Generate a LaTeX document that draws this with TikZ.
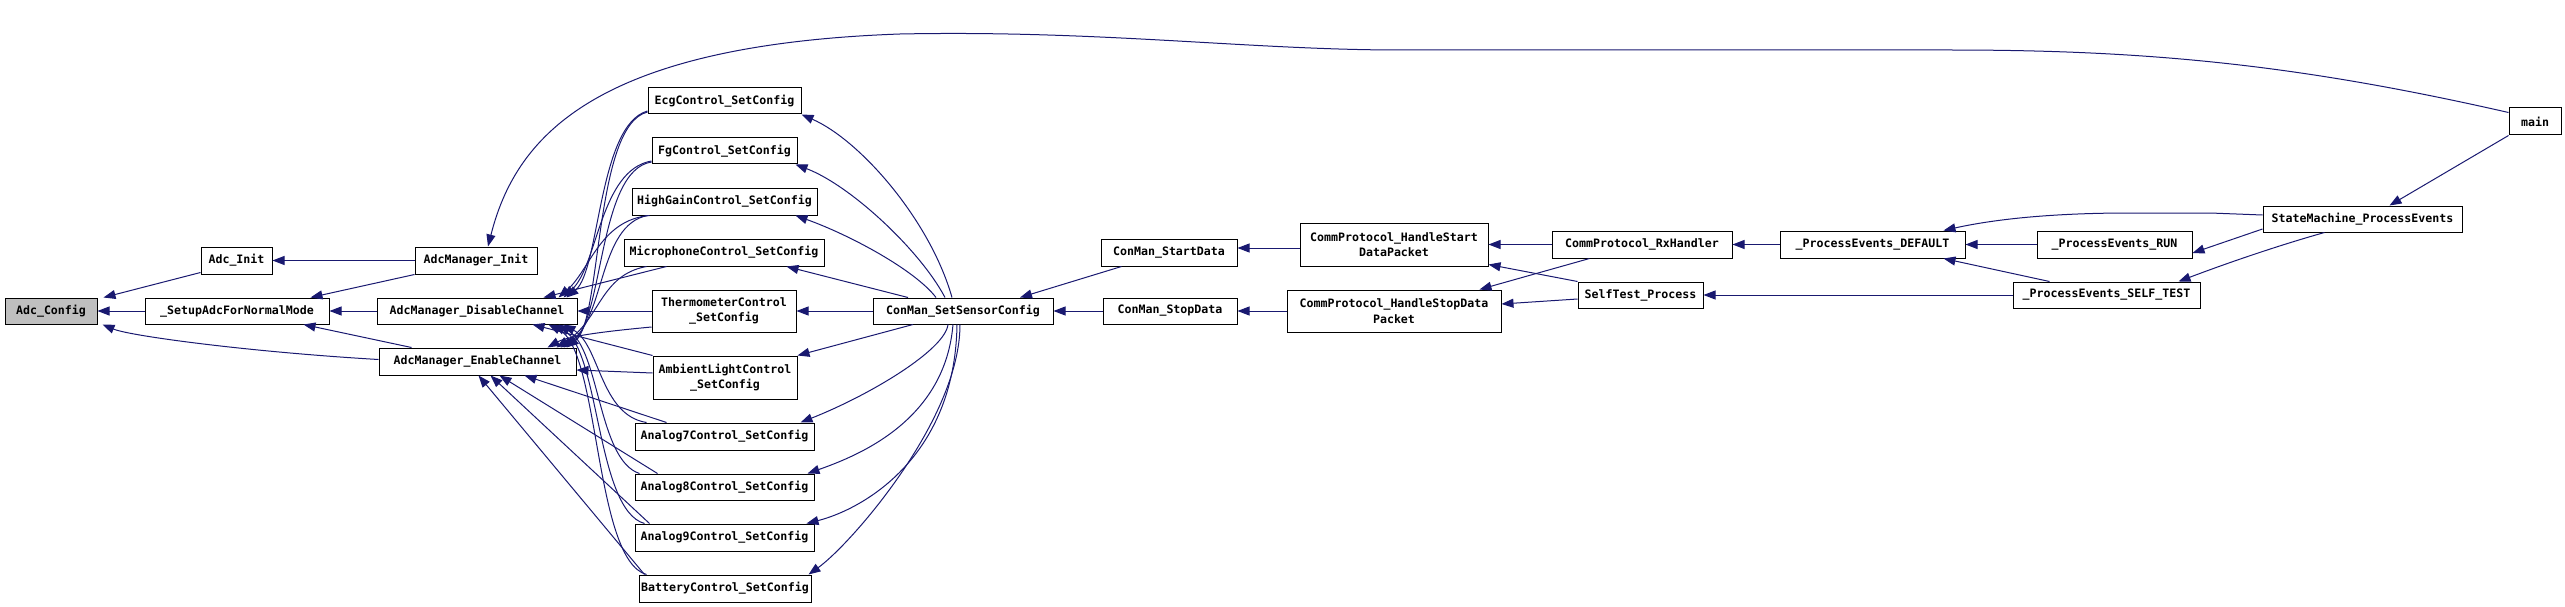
\documentclass[tikz,border=0pt]{standalone}
\usepackage{fontspec}
\newfontfamily\fnfont{DejaVu Sans Mono}
\usetikzlibrary{arrows.meta}
\definecolor{navy}{HTML}{191970}
\definecolor{hilite}{HTML}{BFBFBF}
\tikzset{
  fn/.style={draw=black, line width=1pt, fill=white, inner sep=0pt, align=center,
    font={\fnfont\bfseries\fontsize{11.6}{15.5}\selectfont}},
  calls/.style={draw=navy, line width=1pt, {Triangle[length=12pt,width=9pt]}-},
}
\begin{document}
\begin{tikzpicture}[x=1pt,y=-1pt]
\useasboundingbox (0,0) rectangle (2565,607);
% nodes
\node[fn, fill=hilite, minimum width=92pt, minimum height=26pt] (cfg) at (51,311) {Adc\_Config};
\node[fn, minimum width=71pt, minimum height=27pt] (init) at (236.5,260.5) {Adc\_Init};
\node[fn, minimum width=122pt, minimum height=27pt] (mgrinit) at (476,260.5) {AdcManager\_Init};
\node[fn, minimum width=184pt, minimum height=26pt] (setup) at (237,311) {\_SetupAdcForNormalMode};
\node[fn, minimum width=200pt, minimum height=26pt] (dis) at (477,311) {AdcManager\_DisableChannel};
\node[fn, minimum width=197pt, minimum height=27pt] (en) at (477.5,361.5) {AdcManager\_EnableChannel};
\node[fn, minimum width=153pt, minimum height=26pt] (ecg) at (724.5,101) {EcgControl\_SetConfig};
\node[fn, minimum width=145pt, minimum height=26pt] (fg) at (724.5,151) {FgControl\_SetConfig};
\node[fn, minimum width=185pt, minimum height=27pt] (hg) at (724.5,201.5) {HighGainControl\_SetConfig};
\node[fn, minimum width=200pt, minimum height=27pt] (mic) at (724,252.5) {MicrophoneControl\_SetConfig};
\node[fn, minimum width=144pt, minimum height=42pt] (therm) at (724,311) {ThermometerControl\\\_SetConfig};
\node[fn, minimum width=144pt, minimum height=43pt] (amb) at (725,377.5) {AmbientLightControl\\\_SetConfig};
\node[fn, minimum width=179pt, minimum height=27pt] (a7) at (724.5,436.5) {Analog7Control\_SetConfig};
\node[fn, minimum width=179pt, minimum height=26pt] (a8) at (724.5,487) {Analog8Control\_SetConfig};
\node[fn, minimum width=179pt, minimum height=27pt] (a9) at (724.5,537.5) {Analog9Control\_SetConfig};
\node[fn, minimum width=172pt, minimum height=27pt] (bat) at (725,588.5) {BatteryControl\_SetConfig};
\node[fn, minimum width=180pt, minimum height=26pt] (ssc) at (963,311) {ConMan\_SetSensorConfig};
\node[fn, minimum width=136pt, minimum height=27pt] (start) at (1169,252.5) {ConMan\_StartData};
\node[fn, minimum width=134pt, minimum height=26pt] (stop) at (1170,311) {ConMan\_StopData};
\node[fn, minimum width=188pt, minimum height=43pt] (hstart) at (1394,244.5) {CommProtocol\_HandleStart\\DataPacket};
\node[fn, minimum width=214pt, minimum height=42pt] (hstop) at (1394,311) {CommProtocol\_HandleStopData\\Packet};
\node[fn, minimum width=180pt, minimum height=27pt] (rx) at (1642,244.5) {CommProtocol\_RxHandler};
\node[fn, minimum width=125pt, minimum height=26pt] (self) at (1640.5,295) {SelfTest\_Process};
\node[fn, minimum width=185pt, minimum height=27pt] (def) at (1872.5,244.5) {\_ProcessEvents\_DEFAULT};
\node[fn, minimum width=155pt, minimum height=27pt] (run) at (2114.5,244.5) {\_ProcessEvents\_RUN};
\node[fn, minimum width=187pt, minimum height=26pt] (selft) at (2106.5,295) {\_ProcessEvents\_SELF\_TEST};
\node[fn, minimum width=199pt, minimum height=26pt] (smp) at (2362.5,219) {StateMachine\_ProcessEvents};
\node[fn, minimum width=52pt, minimum height=27pt] (main) at (2535,121.5) {main};
% left part
\draw[calls] ([xshift=6pt]cfg.north east) -- ([yshift=2pt]init.south west);
\draw[calls] (cfg.east) -- (setup.west);
\draw[calls] ([xshift=5pt]cfg.south east) .. controls (130,336) and (250,352) .. ([yshift=2pt]en.west);
\draw[calls] (init.east) -- (mgrinit.west);
\draw[calls] ([xshift=-19pt]setup.north east) -- (mgrinit.south west);
\draw[calls] (setup.east) -- (dis.west);
\draw[calls] ([xshift=-26pt]setup.south east) -- ([xshift=33pt]en.north west);
\draw[calls] ([xshift=12pt]mgrinit.north) .. controls (515,140) and (590,45) .. (900,34)
  .. controls (1100,30) and (1250,50) .. (1400,50) -- (1950,50)
  .. controls (2150,50) and (2300,65) .. ([yshift=9pt]main.west);
% controls -> AdcManager_DisableChannel / EnableChannel
\draw[calls] ([xshift=-11pt]dis.north east) .. controls (600,270) and (598,125) .. ([yshift=-10pt]ecg.west);
\draw[calls] ([xshift=-10pt]en.north east) .. controls (602,320) and (594,125) .. ([yshift=-11pt]ecg.west);
\draw[calls] ([xshift=-14pt]dis.north east) .. controls (598,265) and (600,170) .. ([yshift=-10pt]fg.west);
\draw[calls] ([xshift=-13pt]en.north east) .. controls (604,320) and (598,170) .. ([yshift=-11pt]fg.west);
\draw[calls] ([xshift=-19pt]dis.north east) .. controls (590,270) and (600,220) .. ([xshift=18pt]hg.south west);
\draw[calls] ([xshift=-16pt]en.north east) .. controls (605,320) and (598,225) .. ([xshift=16pt]hg.south west);
\draw[calls] ([xshift=-34pt]dis.north east) -- ([xshift=43pt]mic.south west);
\draw[calls] ([xshift=-20pt]en.north east) .. controls (600,320) and (600,275) .. ([xshift=23pt]mic.south west);
\draw[calls] (dis.east) -- (therm.west);
\draw[calls] ([xshift=-29pt]en.north east) .. controls (570,335) and (620,330) .. ([yshift=-16pt]therm.west);
\draw[calls] ([yshift=-8.5pt]en.east) -- ([yshift=4.5pt]amb.west);
\draw[calls] ([xshift=-45pt]dis.south east) -- (amb.north west);
\draw[calls] ([xshift=-14pt]dis.south east) .. controls (600,345) and (600,415) .. ([xshift=12pt]a7.north west);
\draw[calls] ([xshift=-52pt]en.south east) -- ([xshift=32pt]a7.north west);
\draw[calls] ([xshift=-19pt]dis.south east) .. controls (600,350) and (598,460) .. ([xshift=5pt]a8.north west);
\draw[calls] ([xshift=-77pt]en.south east) -- ([xshift=23pt]a8.north west);
\draw[calls] ([xshift=-24pt]dis.south east) .. controls (600,350) and (596,510) .. ([xshift=10pt]a9.north west);
\draw[calls] ([xshift=-86pt]en.south east) -- ([xshift=15pt]a9.north west);
\draw[calls] ([xshift=-29pt]dis.south east) .. controls (600,350) and (594,560) .. ([xshift=8pt]bat.north west);
\draw[calls] ([xshift=-98pt]en.south east) -- ([xshift=6pt]bat.north west);
% ConMan_SetSensorConfig -> controls
\draw[calls] (ecg.south east) .. controls (860,140) and (930,220) .. ([xshift=-11pt]ssc.north);
\draw[calls] ([xshift=-2pt]fg.south east) .. controls (850,185) and (920,250) .. ([xshift=-18pt]ssc.north);
\draw[calls] ([xshift=-22pt]hg.south east) .. controls (850,235) and (915,270) .. ([xshift=-27pt]ssc.north);
\draw[calls] ([xshift=-38pt]mic.south east) -- ([xshift=-55pt]ssc.north);
\draw[calls] (therm.east) -- (ssc.west);
\draw[calls] (amb.north east) -- ([xshift=-50pt]ssc.south);
\draw[calls] ([xshift=-14pt]a7.north east) .. controls (870,395) and (945,350) .. ([xshift=-15pt]ssc.south);
\draw[calls] ([xshift=-7pt]a8.north east) .. controls (860,455) and (945,420) .. ([xshift=-10pt]ssc.south);
\draw[calls] ([xshift=-8pt]a9.north east) .. controls (860,510) and (955,460) .. ([xshift=-6pt]ssc.south);
\draw[calls] ([xshift=-3pt]bat.north east) .. controls (850,545) and (960,420) .. ([xshift=-3pt]ssc.south);
% right part
\draw[calls] ([xshift=57pt]ssc.north) -- ([xshift=21pt]start.south west);
\draw[calls] (ssc.east) -- (stop.west);
\draw[calls] ([yshift=4.5pt]start.east) -- ([yshift=-3.5pt]hstart.west);
\draw[calls] (stop.east) -- (hstop.west);
\draw[calls] (hstart.east) -- (rx.west);
\draw[calls] ([yshift=-20pt]hstart.east) -- (self.north west);
\draw[calls] ([xshift=-22pt]hstop.north east) -- ([xshift=38pt]rx.south west);
\draw[calls] ([yshift=7pt]hstop.east) -- ([yshift=-4pt]self.west);
\draw[calls] (rx.east) -- (def.west);
\draw[calls] (self.east) -- (selft.west);
\draw[calls] (def.east) -- (run.west);
\draw[calls] ([xshift=-22pt]def.south east) -- ([xshift=37pt]selft.north west);
\draw[calls] ([xshift=-22pt]def.north east) .. controls (2000,218) and (2060,213) .. (2130,213) -- (2210,213) -- ([yshift=4pt]smp.west);
\draw[calls] ([yshift=-8.5pt]run.east) -- ([yshift=-10pt]smp.west);
\draw[calls] ([xshift=-22pt]selft.north east) .. controls (2230,262) and (2280,245) .. ([xshift=-38pt]smp.south);
\draw[calls] ([xshift=27pt]smp.north) -- (main.south west);
\end{tikzpicture}
\end{document}
